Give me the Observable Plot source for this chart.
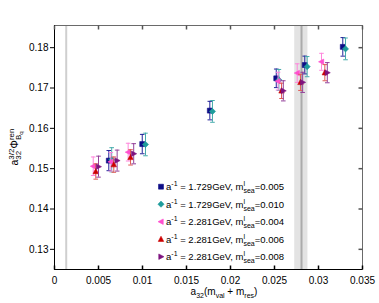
<!DOCTYPE html>
<html><head><meta charset="utf-8">
<script src="https://cdn.jsdelivr.net/npm/d3@7"></script>
<script src="https://cdn.jsdelivr.net/npm/@observablehq/plot@0.6"></script>
<style>body{margin:0;background:#fff} svg{display:block}</style>
</head><body><div id="chart"></div>
<script>
// ---- data ----
const seriesAinv = ["1.729", "1.729", "2.281", "2.281", "2.281"];
const seriesMsea = ["0.005", "0.010", "0.004", "0.006", "0.008"];

const navyX = [0.00617, 0.00997, 0.01765, 0.0252, 0.02844, 0.03276];
const navyY = [0.1520, 0.1561, 0.1644, 0.1724, 0.1757, 0.1802];
const navyErr = [0.0025, 0.0024, 0.0023, 0.0023, 0.0022, 0.0023];

const tealX = [0.0065, 0.01034, 0.01795, 0.0255, 0.02871, 0.03307];
const tealY = [0.1522, 0.1560, 0.1642, 0.1720, 0.1753, 0.1797];
const tealErr = [0.0030, 0.0028, 0.0027, 0.0026, 0.0025, 0.0027];

const pinkX = [0.0044, 0.0064, 0.00837, 0.0254, 0.02758, 0.03034];
const pinkY = [0.1506, 0.1517, 0.1541, 0.1717, 0.1737, 0.1765];
const pinkErr = [0.0023, 0.0023, 0.0022, 0.0022, 0.0023, 0.0021];

const redX = [0.00469, 0.00674, 0.00864, 0.0258, 0.02795, 0.03072];
const redY = [0.1493, 0.1510, 0.1528, 0.1693, 0.1714, 0.1738];
const redErr = [0.0019, 0.0019, 0.0019, 0.0019, 0.0020, 0.0020];

const purpleX = [0.0050, 0.00712, 0.0090, 0.0260, 0.0282, 0.0310];
const purpleY = [0.1505, 0.1520, 0.1537, 0.1693, 0.1714, 0.1738];
const purpleErr = [0.0026, 0.0026, 0.0025, 0.0025, 0.0025, 0.0025];

const xTicks = [0, 0.005, 0.01, 0.015, 0.02, 0.025, 0.03, 0.035];
const yTicks = [0.13, 0.14, 0.15, 0.16, 0.17, 0.18];
const xDomain = [0, 0.035];
const yDomain = [0.125, 0.1855];
const leftLine = [0.00133];
const bandCenter = [0.02807];
const bandRange = [{x1: 0.0273, x2: 0.0288}];

// ---- symbols ----
const symSquare = {draw(c, size){const h = Math.sqrt(size)/2; c.rect(-h, -h, 2*h, 2*h);}};
const symDiamond = {draw(c, size){const s = Math.sqrt(size)*0.62; c.moveTo(0,-s); c.lineTo(s,0); c.lineTo(0,s); c.lineTo(-s,0); c.closePath();}};
const symLeft = {draw(c, size){const s = Math.sqrt(size); c.moveTo(-0.6*s,0); c.lineTo(0.45*s,-0.55*s); c.lineTo(0.45*s,0.55*s); c.closePath();}};
const symRight = {draw(c, size){const s = Math.sqrt(size); c.moveTo(0.6*s,0); c.lineTo(-0.45*s,-0.55*s); c.lineTo(-0.45*s,0.55*s); c.closePath();}};
const symUp = {draw(c, size){const s = Math.sqrt(size); c.moveTo(0,-0.6*s); c.lineTo(0.55*s,0.45*s); c.lineTo(-0.55*s,0.45*s); c.closePath();}};
const symCap = {draw(c){c.moveTo(-2.3,0); c.lineTo(2.3,0);}};
const tickUp = {draw(c){c.moveTo(0,0); c.lineTo(0,-4);}};
const tickDown = {draw(c){c.moveTo(0,0); c.lineTo(0,4);}};
const tickLeft = {draw(c){c.moveTo(0,0); c.lineTo(-4,0);}};

const series = [
  {x: navyX, y: navyY, e: navyErr, color: "#0d0d86", bar: "#24249a", symbol: symSquare},
  {x: tealX, y: tealY, e: tealErr, color: "#1f9c9c", bar: "#44abab", symbol: symDiamond},
  {x: pinkX, y: pinkY, e: pinkErr, color: "#ff4fcf", bar: "#ff86dc", symbol: symLeft},
  {x: redX, y: redY, e: redErr, color: "#cc0000", bar: "#e05a55", symbol: symUp},
  {x: purpleX, y: purpleY, e: purpleErr, color: "#7d137f", bar: "#93409a", symbol: symRight}
];

const seriesMarks = series.flatMap(s => {
  const rows = s.x.map((x, j) => ({x, y: s.y[j], lo: s.y[j] - s.e[j], hi: s.y[j] + s.e[j]}));
  return [
    Plot.ruleX(rows, {x: "x", y1: "lo", y2: "hi", stroke: s.bar, strokeWidth: 1}),
    Plot.dot(rows, {x: "x", y: "lo", symbol: symCap, r: 2, fill: "none", stroke: s.bar, strokeWidth: 1}),
    Plot.dot(rows, {x: "x", y: "hi", symbol: symCap, r: 2, fill: "none", stroke: s.bar, strokeWidth: 1}),
    Plot.dot(rows, {x: "x", y: "y", symbol: s.symbol, r: 2.8, fill: s.color, stroke: s.color, strokeWidth: 0.6})
  ];
});

const svg = Plot.plot({
  width: 379, height: 303,
  marginLeft: 54, marginRight: 17, marginTop: 25, marginBottom: 34,
  style: {fontFamily: "'Liberation Sans', Arial, sans-serif", fontSize: "10px", background: "#fff", color: "#000"},
  x: {domain: xDomain, axis: null},
  y: {domain: yDomain, axis: null},
  marks: [
    Plot.rect(bandRange, {x1: "x1", x2: "x2", fill: "#e3e3e3"}),
    Plot.ruleX(bandCenter, {stroke: "#ababab", strokeWidth: 2}),
    Plot.ruleX(leftLine, {stroke: "#cfcfcf", strokeWidth: 2}),
    Plot.frame({stroke: "#6a6a6a"}),
    Plot.ruleX([xDomain[0]], {stroke: "#000"}),
    Plot.ruleY([yDomain[0]], {stroke: "#000"}),
    Plot.axisY(yTicks, {anchor: "left", tickSize: 4, tickPadding: 2, tickFormat: d => d.toFixed(2), fill: "#000", stroke: "#000"}),
    Plot.axisX(xTicks, {anchor: "bottom", tickSize: 0, tickPadding: 7, tickFormat: d => d === 0 ? "0" : String(d), fill: "#000"}),
    Plot.dot(xTicks, {x: d => d, frameAnchor: "bottom", symbol: tickUp, r: 2, stroke: "#000", fill: "none"}),
    Plot.dot(xTicks, {x: d => d, frameAnchor: "top", symbol: tickDown, r: 2, stroke: "#555", fill: "none"}),
    Plot.dot(yTicks, {y: d => d, frameAnchor: "right", symbol: tickLeft, r: 2, stroke: "#555", fill: "none"}),
    ...seriesMarks
  ]
});
document.getElementById("chart").appendChild(svg);

// ---- legend ----
const sel = d3.select(svg);
const leg = sel.append("g").attr("font-family", "'Liberation Sans', Arial, sans-serif").attr("text-anchor", "start");
series.forEach((s, i) => {
  const cy = 186.7 + i * 17.5;
  leg.append("path").attr("d", d3.symbol(s.symbol, Math.PI * 2.8 * 2.8)()).attr("transform", `translate(161,${cy})`)
    .attr("fill", s.color).attr("stroke", s.color).attr("stroke-width", 0.6);
  const t = leg.append("text").attr("x", 166).attr("y", cy + 3.4).attr("font-size", 9.5).attr("fill", "#000").attr("text-anchor", "start");
  t.append("tspan").text("a");
  t.append("tspan").attr("dy", -3.8).attr("font-size", 7).text("-1");
  t.append("tspan").attr("dy", 3.8).text(` = ${seriesAinv[i]}GeV, m`);
  t.append("tspan").attr("dy", -3.8).attr("font-size", 7).text("l");
  t.append("tspan").attr("dx", -1.6).attr("dy", 6.8).attr("font-size", 7).text("sea");
  t.append("tspan").attr("dy", -3).text(`=${seriesMsea[i]}`);
});

// ---- axis labels ----
const xl = sel.append("text").attr("x", 224).attr("y", 295).attr("text-anchor", "middle")
  .attr("font-family", "'Liberation Sans', Arial, sans-serif").attr("font-size", 10).attr("fill", "#000");
xl.append("tspan").text("a");
xl.append("tspan").attr("dy", 2.5).attr("font-size", 7).text("32");
xl.append("tspan").attr("dy", -2.5).text("(m");
xl.append("tspan").attr("dy", 2.5).attr("font-size", 7).text("val");
xl.append("tspan").attr("dy", -2.5).text(" + m");
xl.append("tspan").attr("dy", 2.5).attr("font-size", 7).text("res");
xl.append("tspan").attr("dy", -2.5).text(")");

const yl = sel.append("text").attr("transform", "translate(18,147) rotate(-90)").attr("text-anchor", "middle")
  .attr("font-family", "'Liberation Sans', Arial, sans-serif").attr("font-size", 10.5).attr("fill", "#000");
yl.append("tspan").text("a");
yl.append("tspan").attr("dy", -4.5).attr("font-size", 8).text("3/2");
yl.append("tspan").attr("dx", -11.1).attr("dy", 7.5).attr("font-size", 8).text("32");
yl.append("tspan").attr("dx", 2.3).attr("dy", -3).text("Φ");
yl.append("tspan").attr("dy", -4.5).attr("font-size", 8).text("ren");
yl.append("tspan").attr("dx", -11.6).attr("dy", 7.5).attr("font-size", 8).text("B");
yl.append("tspan").attr("dy", 2).attr("font-size", 6).text("q");
</script>
</body></html>
